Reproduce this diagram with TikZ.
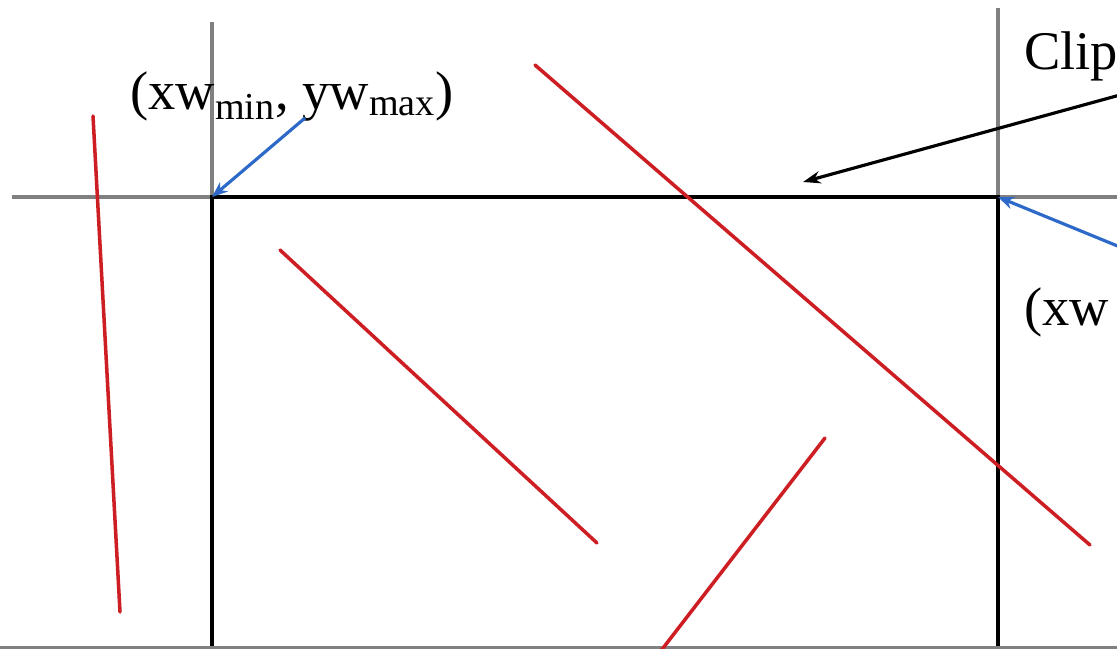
\documentclass[tikz,border=0pt]{standalone}
\usepackage{fontspec}
\setmainfont{Liberation Serif}
\usetikzlibrary{arrows.meta}
\definecolor{guide}{RGB}{128,128,128}
\definecolor{seg}{RGB}{205,30,35}
\definecolor{ptr}{RGB}{45,105,200}
\tikzset{
  guideline/.style={draw=guide,line width=2pt},
  winedge/.style={draw=black,line width=2.6pt},
  segline/.style={draw=seg,line width=2pt,line cap=round},
  ptrarrow/.style={draw=ptr,line width=1.8pt,-{Stealth[length=9pt,width=7pt]}},
  callout/.style={draw=black,line width=1.8pt,-{Stealth[length=10pt,width=7pt]}},
  lbl/.style={font=\fontsize{31}{34}\selectfont,inner sep=0pt}
}
\begin{document}
\begin{tikzpicture}[x=0.02cm,y=-0.02cm]
\useasboundingbox (0,0) rectangle (1117,649);
\fill[white] (0,0) rectangle (1117,649);
\clip (0,0) rectangle (1117,649);
% guide lines
\coordinate (gl1) at (212,22);  \coordinate (gl2) at (212,660);
\coordinate (gr1) at (998,8);   \coordinate (gr2) at (998,660);
\coordinate (gt1) at (12,197);  \coordinate (gt2) at (1130,197);
\coordinate (gb1) at (0,648);   \coordinate (gb2) at (1130,648);
\draw[guideline] (gl1) -- (gl2);
\draw[guideline] (gr1) -- (gr2);
\draw[guideline] (gt1) -- (gt2);
% window
\coordinate (wtl) at (212,197);
\coordinate (wtr) at (998,197);
\coordinate (wbl) at (212,660);
\coordinate (wbr) at (998,660);
\draw[winedge] (wbl) -- (wtl) -- (wtr) -- (wbr);
\draw[guideline] (gb1) -- (gb2);
% red segments
\coordinate (a1) at (93,116);  \coordinate (a2) at (120,612);
\coordinate (b1) at (535,65);  \coordinate (b2) at (1090,545);
\coordinate (c1) at (280,250); \coordinate (c2) at (597,543);
\coordinate (d1) at (825,438); \coordinate (d2) at (660,652);
\draw[segline] (a1) -- (a2);
\draw[segline] (b1) -- (b2);
\draw[segline] (c1) -- (c2);
\draw[segline] (d1) -- (d2);
% labels
\node[lbl,anchor=west] (tl) at (130,96) {(xw\textsubscript{min}, yw\textsubscript{max})};
\node[lbl,anchor=west] (clip) at (1024,56) {Clip};
\node[lbl,anchor=west] (br) at (1024,312) {(xw};
% arrows
\coordinate (p1) at (305,118);
\draw[ptrarrow] (p1) -- (wtl);
\coordinate (p2) at (1120,247);
\draw[ptrarrow] (p2) -- (wtr);
\coordinate (k1) at (1120,95);
\coordinate (k2) at (803,182);
\draw[callout] (k1) -- (k2);
\end{tikzpicture}
\end{document}
